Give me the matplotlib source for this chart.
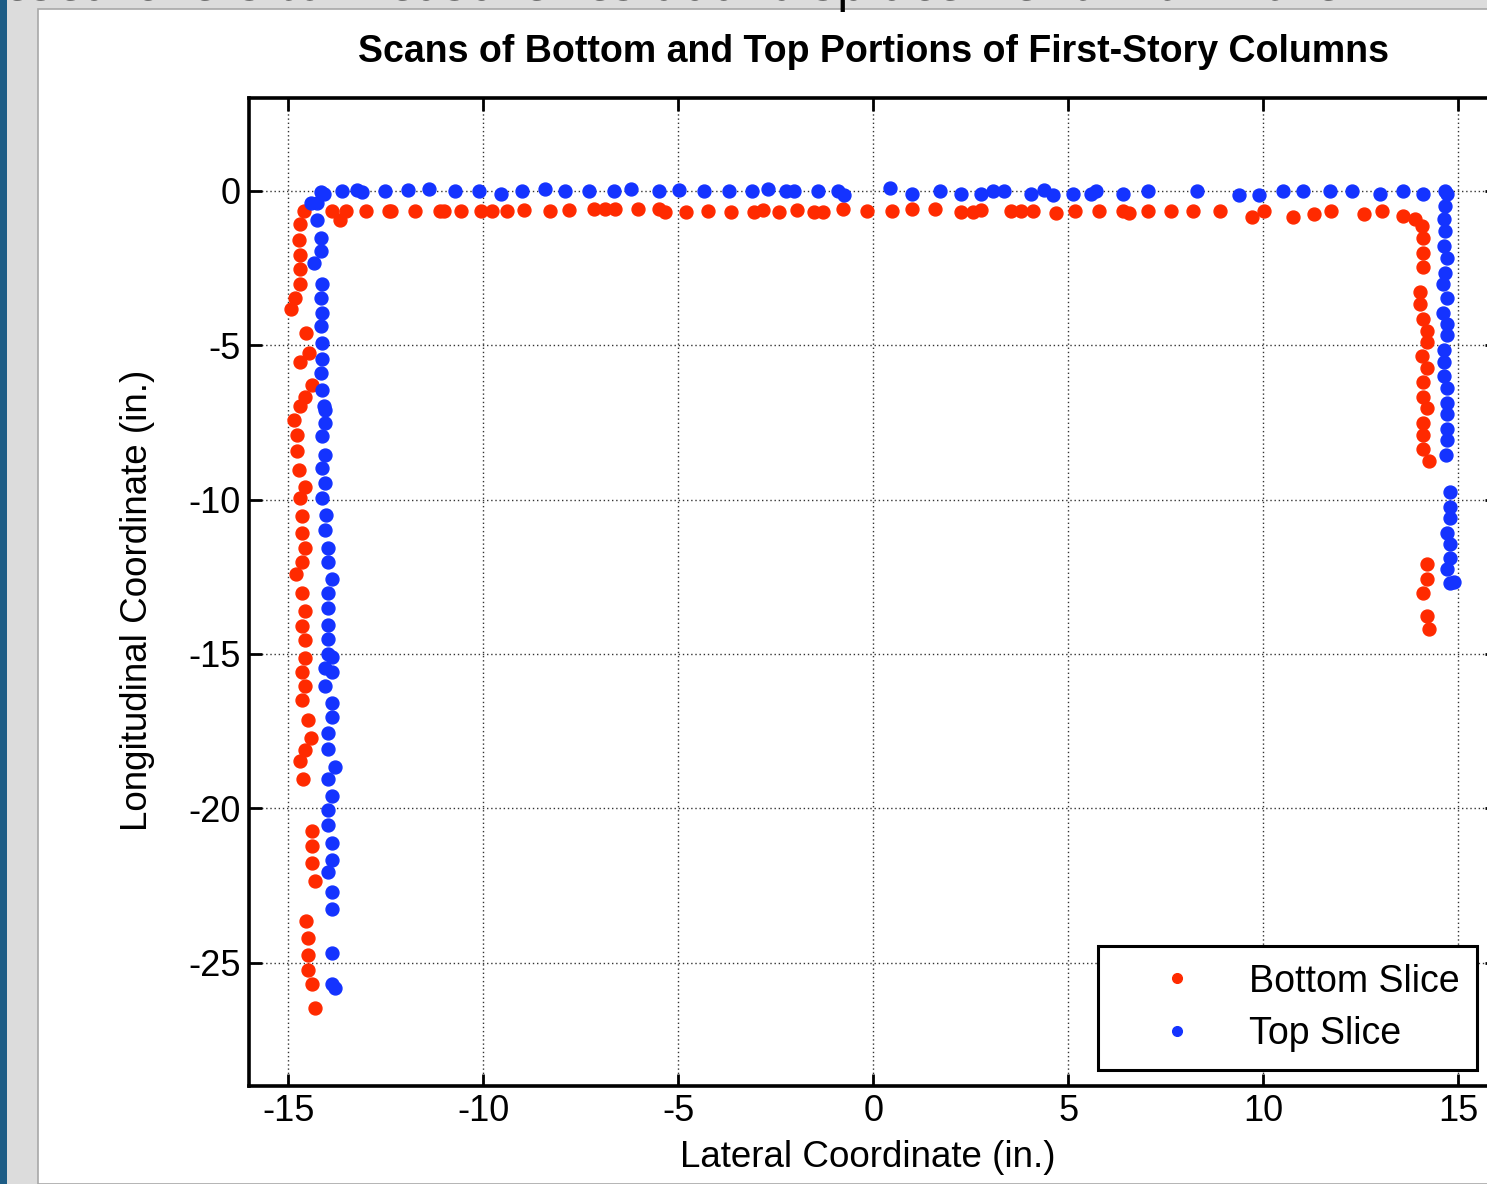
import matplotlib
matplotlib.use("Agg")
import matplotlib.pyplot as plt
from matplotlib.patches import Rectangle
import numpy as np

plt.rcParams['font.family'] = ['Liberation Sans', 'DejaVu Sans']
plt.rcParams['axes.unicode_minus'] = False

# ---------------- data (inches) ----------------
# Bottom slice (red)
bottom_left_col = [(-14.32, -26.46), (-14.40, -25.70), (-14.49, -25.25), (-14.49, -24.75), (-14.49, -24.21),
                   (-14.54, -23.65), (-14.32, -22.35), (-14.40, -21.77), (-14.40, -21.21), (-14.40, -20.75),
                   (-14.62, -19.05), (-14.71, -18.48), (-14.56, -18.10), (-14.42, -17.73), (-14.49, -17.15),
                   (-14.64, -16.50), (-14.56, -16.05), (-14.64, -15.58), (-14.56, -15.13), (-14.56, -14.56),
                   (-14.64, -14.09), (-14.56, -13.61), (-14.64, -13.04), (-14.79, -12.41), (-14.64, -12.01),
                   (-14.56, -11.56), (-14.64, -11.07), (-14.64, -10.53), (-14.71, -9.95), (-14.56, -9.58),
                   (-14.73, -9.04), (-14.77, -8.44), (-14.77, -7.90), (-14.85, -7.41), (-14.71, -6.96),
                   (-14.56, -6.68), (-14.40, -6.28), (-14.71, -5.55), (-14.47, -5.25), (-14.54, -4.60),
                   (-14.94, -3.84), (-14.83, -3.48), (-14.71, -3.03), (-14.71, -2.54), (-14.71, -2.09),
                   (-14.73, -1.59), (-14.71, -1.08), (-14.60, -0.65)]
bottom_top_row = [(-13.87, -0.66), (-13.67, -0.95), (-13.52, -0.66), (-13.00, -0.66), (-12.41, -0.66),
                  (-12.36, -0.66), (-11.75, -0.66), (-11.11, -0.66), (-11.01, -0.66), (-10.57, -0.66),
                  (-10.06, -0.66), (-9.78, -0.66), (-9.39, -0.66), (-8.96, -0.63), (-8.29, -0.66),
                  (-7.81, -0.63), (-7.17, -0.59), (-6.89, -0.59), (-6.63, -0.59), (-6.02, -0.59),
                  (-5.50, -0.59), (-5.33, -0.69), (-4.81, -0.69), (-4.23, -0.66), (-3.64, -0.69),
                  (-3.05, -0.69), (-2.82, -0.63), (-2.41, -0.69), (-1.95, -0.63), (-1.51, -0.69),
                  (-1.28, -0.69), (-0.77, -0.59), (-0.16, -0.66), (0.48, -0.66), (1.00, -0.59),
                  (1.59, -0.59), (2.25, -0.69), (2.56, -0.69), (2.76, -0.63), (3.53, -0.66),
                  (3.79, -0.66), (4.09, -0.66), (4.68, -0.72), (5.17, -0.66), (5.78, -0.66),
                  (6.40, -0.66), (6.55, -0.72), (7.04, -0.66), (7.63, -0.66), (8.21, -0.66),
                  (8.88, -0.66), (9.70, -0.85), (10.01, -0.66), (10.77, -0.85), (11.29, -0.76),
                  (11.75, -0.66), (12.58, -0.76), (13.05, -0.66), (13.59, -0.82), (13.90, -0.92),
                  (14.07, -1.14)]
bottom_right_col = [(14.11, -1.51), (14.11, -2.00), (14.11, -2.45), (14.02, -3.28), (14.02, -3.66),
                    (14.11, -4.14), (14.20, -4.55), (14.20, -4.89), (14.07, -5.36), (14.20, -5.73),
                    (14.11, -6.20), (14.11, -6.68), (14.20, -7.03), (14.11, -7.52), (14.11, -7.90),
                    (14.11, -8.36), (14.26, -8.74), (14.20, -12.10), (14.20, -12.57), (14.11, -13.04),
                    (14.20, -13.78), (14.26, -14.18)]

# Top slice (blue)
top_left_col = [(-13.80, -25.81), (-13.89, -25.70), (-13.89, -24.68), (-13.89, -23.27), (-13.89, -22.70),
                (-13.98, -22.06), (-13.89, -21.68), (-13.89, -21.12), (-13.98, -20.54), (-13.98, -20.07),
                (-13.89, -19.59), (-13.98, -19.05), (-13.80, -18.67), (-13.98, -18.09), (-13.98, -17.55),
                (-13.89, -17.06), (-13.89, -16.59), (-14.05, -16.05), (-13.87, -15.58), (-14.06, -15.47),
                (-13.87, -15.10), (-13.98, -14.99), (-13.98, -14.53), (-13.98, -14.07), (-13.98, -13.51),
                (-13.98, -13.04), (-13.89, -12.57), (-13.98, -12.01), (-13.98, -11.56), (-14.05, -10.98),
                (-14.03, -10.50), (-14.13, -9.95), (-14.05, -9.47), (-14.13, -8.98), (-14.05, -8.55),
                (-14.13, -7.95), (-14.05, -7.52), (-14.05, -7.09), (-14.09, -6.98), (-14.13, -6.46),
                (-14.17, -5.90), (-14.13, -5.46), (-14.13, -4.92), (-14.17, -4.38), (-14.13, -3.95),
                (-14.17, -3.46), (-14.13, -3.03), (-14.34, -2.35), (-14.17, -1.95), (-14.17, -1.51),
                (-14.26, -0.95), (-14.43, -0.38), (-14.26, -0.38), (-14.09, -0.11), (-14.17, -0.05)]
top_top_row = [(-13.62, -0.01), (-13.23, 0.02), (-13.11, -0.04), (-12.52, -0.01), (-11.93, 0.02),
               (-11.39, 0.06), (-10.73, -0.01), (-10.11, -0.01), (-9.55, -0.11), (-9.01, -0.01),
               (-8.42, 0.06), (-7.91, -0.01), (-7.30, -0.01), (-6.66, -0.01), (-6.20, 0.06),
               (-5.50, -0.01), (-4.99, 0.02), (-4.35, -0.01), (-3.69, -0.01), (-3.12, -0.01),
               (-2.69, 0.06), (-2.23, -0.01), (-2.02, -0.01), (-1.41, -0.01), (-0.90, -0.01),
               (-0.74, -0.14), (0.43, 0.09), (1.00, -0.11), (1.71, -0.01), (2.25, -0.11),
               (2.76, -0.11), (3.07, -0.01), (3.35, -0.01), (4.04, -0.11), (4.38, 0.02),
               (4.61, -0.14), (5.12, -0.11), (5.58, -0.11), (5.71, -0.01), (6.40, -0.11),
               (7.04, -0.01), (8.29, -0.01), (9.37, -0.14), (9.88, -0.14), (10.52, -0.01),
               (11.03, -0.01), (11.70, -0.01), (12.28, -0.01), (13.00, -0.11), (13.59, -0.01),
               (14.10, -0.11), (14.66, 0.00), (14.71, -0.11)]
top_right_col = [(14.66, -0.49), (14.64, -0.92), (14.66, -1.30), (14.64, -1.79), (14.71, -2.16),
                 (14.66, -2.65), (14.62, -3.01), (14.71, -3.48), (14.62, -3.95), (14.71, -4.30),
                 (14.71, -4.68), (14.64, -5.17), (14.64, -5.54), (14.64, -6.01), (14.71, -6.38),
                 (14.71, -6.87), (14.71, -7.23), (14.71, -7.71), (14.71, -8.08), (14.69, -8.55),
                 (14.78, -9.74), (14.78, -10.25), (14.78, -10.60), (14.71, -11.09), (14.78, -11.45),
                 (14.78, -11.90), (14.71, -12.26), (14.78, -12.71), (14.88, -12.66)]

series_labels = ["Bottom Slice", "Top Slice"]
x_ticks = [-15, -10, -5, 0, 5, 10, 15]
y_ticks = [-25, -20, -15, -10, -5, 0]

bottom = np.array(bottom_left_col + bottom_top_row + bottom_right_col)
top = np.array(top_left_col + top_top_row + top_right_col)

# ---------------- figure ----------------
W, H = 1487, 1184
fig = plt.figure(figsize=(W / 100, H / 100), dpi=100)
fig.patch.set_facecolor('#dcdcdc')

# screenshot frame: blue strip, white panel, cut-off text line on top
fig.add_artist(Rectangle((0, 0), 7 / W, 1, transform=fig.transFigure,
                         facecolor='#1d5c85', edgecolor='none', zorder=-10))
fig.add_artist(Rectangle((38 / W, 0), 1, 1 - 9 / H, transform=fig.transFigure,
                         facecolor='white', edgecolor='#a8a8a8', linewidth=1.2, zorder=-9))
fig.text(-20 / W, 1.0, "researchers to measure residual displacement within the",
         fontsize=37, family=['Open Sans', 'DejaVu Sans'], ha='left', va='baseline', color='black')

left, right, bottom_px, top_px = 249.3, 1497.2, 1086, 98.3
ax = fig.add_axes([left / W, (H - bottom_px) / H, (right - left) / W, (bottom_px - top_px) / H])

red = '#ff2a00'
blue = '#1433ff'
ax.plot(bottom[:, 0], bottom[:, 1], linestyle='none', marker='o', markersize=9.3,
        markerfacecolor=red, markeredgecolor=red, label=series_labels[0])
ax.plot(top[:, 0], top[:, 1], linestyle='none', marker='o', markersize=9.3,
        markerfacecolor=blue, markeredgecolor=blue, label=series_labels[1])

ax.set_xlim(-16, 16)
ax.set_ylim(-29, 3)
ax.set_xticks(x_ticks)
ax.set_yticks(y_ticks)
ax.set_xticklabels([str(v) for v in x_ticks])
ax.set_yticklabels([str(v) for v in y_ticks])

ax.grid(True, linestyle=(0, (1, 2)), color='#333333', linewidth=1.0)
ax.tick_params(direction='in', length=9, width=2, top=True, right=True,
               labelsize=26, pad=6, colors='black')
for s in ax.spines.values():
    s.set_linewidth(2.6)
    s.set_color('black')

ax.set_title("Scans of Bottom and Top Portions of First-Story Columns",
             fontsize=27, fontweight='bold', pad=26)
ax.set_xlabel("Lateral Coordinate (in.)", fontsize=26.5)
ax.set_ylabel("Longitudinal Coordinate (in.)", fontsize=26.5)
ax.xaxis.set_label_coords((868 - left) / (right - left), (bottom_px - 1140) / (bottom_px - top_px))
ax.yaxis.set_label_coords((155 - left) / (right - left), (bottom_px - 600) / (bottom_px - top_px))

leg = ax.legend(loc='lower left',
                bbox_to_anchor=((1098 - left) / (right - left), (bottom_px - 1070) / (bottom_px - top_px)),
                fontsize=27, markerscale=0.75, handletextpad=0.3, handlelength=3.25,
                borderpad=0.47, labelspacing=0.45, fancybox=False, framealpha=1,
                borderaxespad=0)
leg.get_frame().set_edgecolor('black')
leg.get_frame().set_linewidth(2.2)

fig.savefig("out.png", dpi=100)
